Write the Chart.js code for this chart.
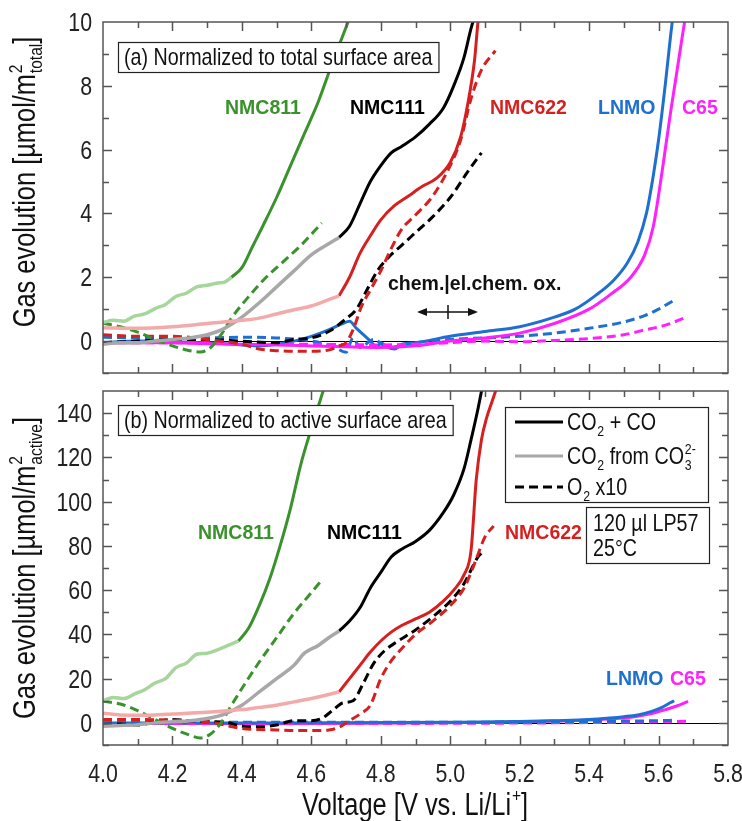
<!DOCTYPE html>
<html>
<head>
<meta charset="utf-8">
<script src="https://cdn.jsdelivr.net/npm/chart.js@4.4.1/dist/chart.umd.min.js"></script>
<style>
  body { margin: 0; background: #fff; }
  #wrap { position: relative; width: 742px; height: 821px; }
  canvas { position: absolute; left: 0; }
</style>
</head>
<body>
<div id="wrap">
  <canvas id="chartA" width="742" height="380" style="top:0"></canvas>
  <canvas id="chartB" width="742" height="441" style="top:380px"></canvas>
</div>
<script>
// axis ticks
var voltTicks = [4.0, 4.2, 4.4, 4.6, 4.8, 5.0, 5.2, 5.4, 5.6, 5.8]
var yTicksA = [0, 2, 4, 6, 8, 10]
var yTicksB = [0, 20, 40, 60, 80, 100, 120, 140]

// (a) normalized to total surface area
var vA811co3 = [4.00, 4.03, 4.06, 4.09, 4.12, 4.15, 4.18, 4.21, 4.24, 4.27, 4.30, 4.33, 4.35, 4.37]
var gA811co3 = [0.58, 0.65, 0.62, 0.78, 0.85, 1.02, 1.15, 1.40, 1.50, 1.70, 1.75, 1.82, 1.85, 2.00]
var vA811 = [4.37, 4.40, 4.43, 4.46, 4.50, 4.54, 4.58, 4.62, 4.66, 4.72]
var gA811 = [2.00, 2.30, 2.95, 3.60, 4.50, 5.50, 6.50, 7.50, 8.70, 10.4]
var vA811o2 = [4.00, 4.05, 4.10, 4.15, 4.20, 4.25, 4.28, 4.31, 4.34, 4.37, 4.42, 4.47, 4.52, 4.57, 4.63]
var gA811o2 = [0.56, 0.45, 0.28, 0.05, -0.15, -0.30, -0.34, -0.20, 0.20, 0.72, 1.40, 2.00, 2.50, 3.00, 3.70]

var vA111co3 = [4.00, 4.05, 4.10, 4.15, 4.20, 4.25, 4.30, 4.35, 4.40, 4.45, 4.50, 4.55, 4.60, 4.65, 4.68]
var gA111co3 = [-0.10, -0.05, -0.05, 0.00, 0.05, 0.10, 0.20, 0.40, 0.75, 1.20, 1.70, 2.20, 2.70, 3.05, 3.25]
var vA111 = [4.68, 4.71, 4.74, 4.77, 4.80, 4.83, 4.86, 4.90, 4.94, 4.98, 5.01, 5.04, 5.06, 5.08]
var gA111 = [3.25, 3.60, 4.30, 5.00, 5.50, 5.90, 6.10, 6.40, 6.80, 7.30, 8.00, 8.90, 9.80, 10.5]
var vA111o2 = [4.00, 4.10, 4.20, 4.30, 4.40, 4.50, 4.55, 4.60, 4.65, 4.70, 4.73, 4.76, 4.79, 4.82, 4.86, 4.90, 4.95, 5.00, 5.05, 5.09]
var gA111o2 = [-0.05, 0.00, 0.05, 0.05, 0.00, -0.05, 0.05, 0.10, 0.30, 0.70, 1.00, 1.60, 2.20, 2.60, 3.00, 3.40, 3.90, 4.50, 5.30, 5.90]

var vA622co3 = [4.00, 4.10, 4.20, 4.30, 4.40, 4.45, 4.50, 4.55, 4.60, 4.65, 4.68]
var gA622co3 = [0.42, 0.40, 0.45, 0.55, 0.65, 0.72, 0.85, 0.98, 1.10, 1.30, 1.42]
var vA622 = [4.68, 4.71, 4.74, 4.77, 4.80, 4.84, 4.88, 4.92, 4.96, 5.00, 5.03, 5.05, 5.07, 5.08, 5.09]
var gA622 = [1.42, 2.00, 2.75, 3.30, 3.80, 4.25, 4.55, 4.85, 5.10, 5.60, 6.40, 7.40, 8.80, 10.0, 10.8]
var vA622o2 = [4.00, 4.10, 4.20, 4.30, 4.40, 4.45, 4.50, 4.55, 4.60, 4.65, 4.68, 4.70, 4.72, 4.745, 4.77, 4.80, 4.83, 4.86, 4.90, 4.95, 5.00, 5.03, 5.06, 5.09, 5.13]
var gA622o2 = [0.20, 0.15, 0.15, 0.05, -0.10, -0.25, -0.30, -0.32, -0.32, -0.28, -0.15, -0.05, 0.35, 1.10, 1.60, 2.20, 2.90, 3.50, 3.95, 4.55, 5.50, 6.30, 7.60, 8.50, 9.10]

var vAlnmo = [4.00, 4.10, 4.20, 4.30, 4.40, 4.45, 4.50, 4.55, 4.60, 4.65, 4.69, 4.71, 4.73, 4.75, 4.77, 4.79, 4.80, 4.82, 4.84, 4.86, 4.90, 5.00, 5.10, 5.20, 5.30, 5.36, 5.42, 5.47, 5.51, 5.54, 5.565, 5.585, 5.60, 5.62, 5.635, 5.645]
var gAlnmo = [-0.05, 0.00, -0.02, -0.05, -0.12, -0.15, -0.10, 0.00, 0.15, 0.35, 0.55, 0.62, 0.40, 0.20, 0.00, -0.20, -0.05, -0.20, -0.25, -0.10, -0.05, 0.15, 0.30, 0.45, 0.75, 1.00, 1.44, 1.90, 2.45, 3.10, 4.00, 5.20, 6.30, 8.10, 9.60, 10.5]
var vAlnmoO2 = [4.00, 4.10, 4.20, 4.30, 4.40, 4.50, 4.60, 4.66, 4.70, 4.72, 4.74, 4.78, 4.82, 4.90, 5.00, 5.10, 5.20, 5.30, 5.40, 5.50, 5.56, 5.60, 5.645]
var gAlnmoO2 = [0.12, 0.10, 0.08, 0.10, 0.12, 0.10, 0.00, -0.15, -0.35, 0.10, -0.20, 0.05, -0.20, -0.05, 0.05, 0.10, 0.15, 0.25, 0.40, 0.60, 0.80, 1.00, 1.28]

var vAc65 = [4.00, 4.10, 4.20, 4.30, 4.40, 4.50, 4.60, 4.70, 4.80, 4.90, 5.00, 5.10, 5.20, 5.30, 5.40, 5.46, 5.52, 5.56, 5.585, 5.61, 5.635, 5.655, 5.675, 5.685]
var gAc65 = [-0.05, -0.05, -0.05, -0.08, -0.10, -0.12, -0.15, -0.18, -0.20, -0.15, 0.00, 0.10, 0.25, 0.55, 1.00, 1.45, 2.00, 2.70, 3.60, 5.30, 7.20, 8.60, 10.0, 10.6]
var vAc65O2 = [4.00, 4.20, 4.40, 4.60, 4.80, 5.00, 5.10, 5.20, 5.30, 5.40, 5.50, 5.56, 5.62, 5.68]
var gAc65O2 = [-0.05, -0.05, -0.08, -0.10, -0.12, -0.05, 0.00, -0.02, 0.02, 0.08, 0.20, 0.35, 0.50, 0.75]

// (b) normalized to active surface area
var vB811co3 = [4.00, 4.03, 4.06, 4.09, 4.12, 4.15, 4.18, 4.21, 4.24, 4.27, 4.30, 4.33, 4.36, 4.39]
var gB811co3 = [10.0, 11.5, 11.0, 13.0, 15.0, 18.0, 20.0, 25.0, 27.0, 31.0, 31.5, 33.0, 35.0, 37.0]
var vB811 = [4.39, 4.42, 4.45, 4.48, 4.51, 4.54, 4.57, 4.60, 4.63, 4.65]
var gB811 = [37.0, 43.0, 53.0, 65.0, 80.0, 97.0, 117, 133, 148, 158]
var vB811o2 = [4.00, 4.05, 4.10, 4.15, 4.20, 4.24, 4.28, 4.31, 4.34, 4.37, 4.41, 4.45, 4.50, 4.55, 4.59, 4.63]
var gB811o2 = [9.8, 8.5, 5.5, 1.5, -2.5, -5.0, -6.8, -5.0, 0.0, 8.0, 18.0, 27.5, 38.5, 49.5, 57.0, 64.5]

var vB111co3 = [4.00, 4.05, 4.10, 4.15, 4.20, 4.25, 4.30, 4.35, 4.40, 4.45, 4.50, 4.55, 4.58, 4.62, 4.65, 4.68]
var gB111co3 = [-1.5, -1.2, -0.8, 0.0, 0.5, 1.0, 2.0, 4.0, 8.0, 14.0, 20.0, 26.0, 31.5, 35.0, 38.5, 41.5]
var vB111 = [4.68, 4.71, 4.74, 4.77, 4.80, 4.83, 4.86, 4.90, 4.94, 4.98, 5.01, 5.04, 5.06, 5.08, 5.10]
var gB111 = [41.5, 46.0, 52.0, 61.0, 68.0, 75.0, 78.5, 82.0, 87.0, 95.0, 103, 115, 128, 142, 158]
var vB111o2 = [4.00, 4.05, 4.10, 4.15, 4.20, 4.25, 4.30, 4.35, 4.40, 4.45, 4.50, 4.55, 4.60, 4.63, 4.66, 4.69, 4.72, 4.75, 4.78, 4.81, 4.85, 4.90, 4.95, 5.00, 5.04, 5.08, 5.10]
var gB111o2 = [-0.7, -0.5, -1.0, 0.5, 1.5, 1.0, 0.5, 0.3, -1.5, -1.8, -1.0, 1.0, 1.0, 2.0, 5.5, 9.0, 10.0, 18.0, 27.0, 32.5, 37.0, 42.0, 48.0, 55.0, 63.0, 75.0, 78.0]

var vB622co3 = [4.00, 4.05, 4.10, 4.15, 4.20, 4.30, 4.40, 4.45, 4.50, 4.55, 4.60, 4.65, 4.68]
var gB622co3 = [4.4, 3.6, 3.5, 3.6, 4.0, 4.8, 6.0, 7.0, 8.0, 9.5, 11.0, 12.8, 14.0]
var vB622 = [4.68, 4.71, 4.74, 4.77, 4.80, 4.83, 4.86, 4.90, 4.94, 4.98, 5.01, 5.04, 5.06, 5.075, 5.09, 5.105, 5.12, 5.135]
var gB622 = [14.0, 20.0, 26.0, 32.0, 37.0, 41.0, 44.0, 47.0, 50.0, 55.0, 60.0, 67.0, 78.0, 110, 128, 138, 145, 152]
var vB622o2 = [4.00, 4.10, 4.20, 4.30, 4.40, 4.45, 4.50, 4.55, 4.60, 4.65, 4.68, 4.71, 4.74, 4.77, 4.80, 4.83, 4.86, 4.90, 4.95, 5.00, 5.04, 5.07, 5.10, 5.125]
var gB622o2 = [1.5, 1.5, 1.2, 0.5, -2.5, -3.0, -3.2, -3.5, -3.5, -3.2, -2.0, 1.0, 4.0, 8.0, 20.0, 28.0, 33.5, 40.0, 46.0, 53.0, 61.0, 72.0, 84.0, 89.0]

var vBlnmo = [4.00, 4.50, 5.00, 5.20, 5.30, 5.40, 5.46, 5.50, 5.54, 5.58, 5.61, 5.635, 5.645]
var gBlnmo = [0.0, 0.0, 0.3, 0.6, 1.0, 1.5, 2.2, 2.8, 3.6, 5.2, 7.0, 9.2, 10.0]
var vBlnmoO2 = [4.00, 4.50, 5.00, 5.30, 5.50, 5.60, 5.645]
var gBlnmoO2 = [0.5, 0.3, 0.3, 0.5, 0.8, 1.0, 1.2]
var vBc65 = [4.00, 4.50, 5.00, 5.20, 5.30, 5.40, 5.46, 5.50, 5.54, 5.58, 5.62, 5.65, 5.685]
var gBc65 = [-0.3, -0.4, 0.0, 0.4, 0.8, 1.3, 1.8, 2.2, 3.0, 4.2, 6.0, 7.5, 9.7]
var vBc65O2 = [4.00, 4.50, 5.00, 5.30, 5.50, 5.60, 5.685]
var gBc65O2 = [-0.2, -0.3, -0.2, 0.0, 0.3, 0.5, 0.7]

var GREEN = '#3a922c', LGREEN = '#a6d69c', BLACK = '#000000', GREY = '#a8a8a8'
var RED = '#d61f1f', PINK = '#f2aaaa', BLUE = '#1d6fd0', MAGENTA = '#ff1fff'

var SANS = '"Liberation Sans", Arial, sans-serif'
var SQ = 0.82   // horizontal squeeze, the figure uses a narrow face

function pts(xs, ys) {
  return xs.map(function(x, i) { return {x: x, y: ys[i]} })
}

function line(xs, ys, color, dashed, width) {
  return {
    data: pts(xs, ys),
    borderColor: color,
    borderWidth: width || 3,
    borderDash: dashed ? [9, 5] : [],
    pointRadius: 0,
    cubicInterpolationMode: 'monotone',
    fill: false
  }
}

// narrow text with sub/superscripts, parts are strings or {sup, sub}
function partsWidth(ctx, parts, size) {
  var w = 0
  parts.forEach(function(p) {
    if (typeof p === 'string') {
      ctx.font = size + 'px ' + SANS
      w += ctx.measureText(p).width
    } else {
      ctx.font = Math.round(size * 0.62) + 'px ' + SANS
      w += Math.max(ctx.measureText(p.sup || '').width, ctx.measureText(p.sub || '').width) + 1
    }
  })
  return w * SQ
}

function drawParts(ctx, parts, x, y, size, align) {
  var w = partsWidth(ctx, parts, size)
  if (align === 'center') x -= w / 2
  if (align === 'right') x -= w
  ctx.save()
  ctx.translate(x, y)
  ctx.scale(SQ, 1)
  ctx.textAlign = 'left'
  ctx.textBaseline = 'alphabetic'
  var cx = 0
  parts.forEach(function(p) {
    if (typeof p === 'string') {
      ctx.font = size + 'px ' + SANS
      ctx.fillText(p, cx, 0)
      cx += ctx.measureText(p).width
    } else {
      ctx.font = Math.round(size * 0.62) + 'px ' + SANS
      var ww = 0
      if (p.sup) { ctx.fillText(p.sup, cx + 1, -size * 0.42); ww = ctx.measureText(p.sup).width }
      if (p.sub) { ctx.fillText(p.sub, cx + 1, size * 0.24); ww = Math.max(ww, ctx.measureText(p.sub).width) }
      cx += ww + 1
    }
  })
  ctx.restore()
  return w
}

function yTitle(ctx, parts, cy) {
  ctx.save()
  ctx.fillStyle = '#111'
  ctx.translate(35, cy)
  ctx.rotate(-Math.PI / 2)
  drawParts(ctx, parts, 0, 0, 31, 'center')
  ctx.restore()
}

function boxedText(ctx, text, x, y, size) {
  var w = partsWidth(ctx, [text], size)
  ctx.fillStyle = '#fff'
  ctx.fillRect(x, y, w + 12, size + 6)
  ctx.strokeStyle = '#222'
  ctx.lineWidth = 1.2
  ctx.strokeRect(x + 0.5, y + 0.5, w + 12, size + 6)
  ctx.fillStyle = '#111'
  drawParts(ctx, [text], x + 6, y + size - 1, size, 'left')
}

function label(ctx, text, x, y, color) {
  ctx.font = 'bold 19.5px ' + SANS
  ctx.fillStyle = color
  ctx.textAlign = 'left'
  ctx.textBaseline = 'alphabetic'
  ctx.fillText(text, x, y)
}

function makeFrame(yMin, yMax, yMinor, yMajor, yLabels, xLabels) {
  return {
    id: 'frame',
    beforeDatasetsDraw: function(chart) {
      var ctx = chart.ctx, a = chart.chartArea
      var y0 = Math.round(chart.scales.y.getPixelForValue(0)) + 0.5
      ctx.save()
      ctx.strokeStyle = '#000'
      ctx.lineWidth = 1
      ctx.beginPath()
      ctx.moveTo(a.left, y0)
      ctx.lineTo(a.right, y0)
      ctx.stroke()
      ctx.restore()
    },
    afterDatasetsDraw: function(chart) {
      var ctx = chart.ctx, a = chart.chartArea, xs = chart.scales.x, ys = chart.scales.y
      ctx.save()
      ctx.strokeStyle = '#555'
      ctx.lineWidth = 1.5
      ctx.beginPath()
      for (var i = 1; i < 18; i++) {
        var px = Math.round(xs.getPixelForValue(4 + i * 0.1)) + 0.5
        var len = i % 2 === 0 ? 9 : 6
        ctx.moveTo(px, a.bottom); ctx.lineTo(px, a.bottom - len)
        ctx.moveTo(px, a.top); ctx.lineTo(px, a.top + len)
      }
      for (var j = Math.ceil(yMin / yMinor); j * yMinor < yMax; j++) {
        var v = j * yMinor
        var py = Math.round(ys.getPixelForValue(v)) + 0.5
        var l2 = Math.abs(v % yMajor) < 1e-9 ? 9 : 6
        ctx.moveTo(a.left, py); ctx.lineTo(a.left + l2, py)
        ctx.moveTo(a.right, py); ctx.lineTo(a.right - l2, py)
      }
      ctx.stroke()
      ctx.strokeRect(a.left, a.top, a.right - a.left, a.bottom - a.top)

      // tick labels placed through the scales
      ctx.fillStyle = '#222'
      yLabels.forEach(function(v) {
        drawParts(ctx, [String(v)], a.left - 11, ys.getPixelForValue(v) + 9, 26, 'right')
      })
      if (xLabels) {
        xLabels.forEach(function(v) {
          drawParts(ctx, [v.toFixed(1)], xs.getPixelForValue(v), a.bottom + 37, 26, 'center')
        })
      }
      ctx.restore()
    }
  }
}

function notesA(chart) {
  var ctx = chart.ctx
  ctx.save()
  boxedText(ctx, '(a) Normalized to total surface area', 118, 42, 24)
  label(ctx, 'NMC811', 225, 114, GREEN)
  label(ctx, 'NMC111', 350, 114, BLACK)
  label(ctx, 'NMC622', 490, 114, RED)
  label(ctx, 'LNMO', 598, 114, BLUE)
  label(ctx, 'C65', 682, 114, MAGENTA)
  label(ctx, 'chem.|el.chem. ox.', 388, 290, '#111')
  // double arrow
  ctx.strokeStyle = '#111'
  ctx.fillStyle = '#111'
  ctx.lineWidth = 1.5
  ctx.beginPath()
  ctx.moveTo(422, 312); ctx.lineTo(473, 312)
  ctx.moveTo(448, 305); ctx.lineTo(448, 319)
  ctx.stroke()
  ctx.beginPath()
  ctx.moveTo(417, 312); ctx.lineTo(427, 308); ctx.lineTo(427, 316); ctx.closePath()
  ctx.moveTo(478, 312); ctx.lineTo(468, 308); ctx.lineTo(468, 316); ctx.closePath()
  ctx.fill()
  yTitle(ctx, ['Gas evolution [\u00b5mol/m', {sup: '2', sub: 'total'}, ']'], 182)
  ctx.restore()
}

function notesB(chart) {
  var ctx = chart.ctx
  ctx.save()
  boxedText(ctx, '(b) Normalized to active surface area', 118, 25, 24)
  label(ctx, 'NMC811', 198, 159, GREEN)
  label(ctx, 'NMC111', 327, 159, BLACK)
  label(ctx, 'NMC622', 505, 159, RED)
  label(ctx, 'LNMO', 606, 305, BLUE)
  label(ctx, 'C65', 670, 305, MAGENTA)

  // legend
  ctx.fillStyle = '#fff'
  ctx.fillRect(505, 27, 203, 95)
  ctx.strokeStyle = '#222'
  ctx.lineWidth = 1.2
  ctx.strokeRect(505.5, 27.5, 203, 95)
  var rows = [
    {y: 42, color: BLACK, dash: [], parts: ['CO', {sub: '2'}, ' + CO']},
    {y: 76, color: GREY, dash: [], parts: ['CO', {sub: '2'}, ' from CO', {sup: '2-', sub: '3'}]},
    {y: 107, color: BLACK, dash: [9, 5], parts: ['O', {sub: '2'}, ' x10']}
  ]
  rows.forEach(function(r) {
    ctx.strokeStyle = r.color
    ctx.lineWidth = 3
    ctx.setLineDash(r.dash)
    ctx.beginPath()
    ctx.moveTo(515, r.y); ctx.lineTo(563, r.y)
    ctx.stroke()
    ctx.setLineDash([])
    ctx.fillStyle = '#111'
    drawParts(ctx, r.parts, 567, r.y + 8, 24, 'left')
  })

  ctx.fillStyle = '#fff'
  ctx.fillRect(586, 127, 123, 56)
  ctx.strokeStyle = '#222'
  ctx.lineWidth = 1.2
  ctx.strokeRect(586.5, 127.5, 123, 56)
  ctx.fillStyle = '#111'
  drawParts(ctx, ['120 \u00b5l LP57'], 593, 151, 24, 'left')
  drawParts(ctx, ['25\u00b0C'], 593, 176, 24, 'left')

  yTitle(ctx, ['Gas evolution [\u00b5mol/m', {sup: '2', sub: 'active'}, ']'], 188)
  ctx.fillStyle = '#111'
  drawParts(ctx, ['Voltage [V vs. Li/Li', {sup: '+'}, ']'], 415, 435, 31, 'center')
  ctx.restore()
}

function setTicks(list) {
  return function(scale) { scale.ticks = list.map(function(v) { return {value: v} }) }
}

var chartA = new Chart(document.getElementById('chartA').getContext('2d'), {
  type: 'line',
  data: {
    datasets: [
      line(vA622co3, gA622co3, PINK, false, 3.5),
      line(vA111co3, gA111co3, GREY, false, 3.5),
      line(vA811co3, gA811co3, LGREEN, false, 3.5),
      line(vA811o2, gA811o2, GREEN, true),
      line(vA811, gA811, GREEN),
      line(vA622o2, gA622o2, RED, true),
      line(vA111o2, gA111o2, BLACK, true),
      line(vA622, gA622, RED),
      line(vA111, gA111, BLACK),
      line(vAc65O2, gAc65O2, MAGENTA, true),
      line(vAc65, gAc65, MAGENTA),
      line(vAlnmoO2, gAlnmoO2, BLUE, true),
      line(vAlnmo, gAlnmo, BLUE)
    ]
  },
  options: {
    responsive: false,
    animation: false,
    layout: { padding: { top: 22, right: 14, left: 0, bottom: 0 } },
    plugins: { legend: { display: false }, tooltip: { enabled: false } },
    scales: {
      x: {
        type: 'linear', min: 4.0, max: 5.8,
        grid: { display: false, drawTicks: false },
        border: { display: false },
        ticks: { display: false },
        afterFit: function(scale) { scale.height = 7 }
      },
      y: {
        min: -1, max: 10,
        grid: { display: false, drawTicks: false },
        border: { display: false },
        afterBuildTicks: setTicks(yTicksA),
        ticks: { display: false },
        afterFit: function(scale) { scale.width = 103 }
      }
    }
  },
  plugins: [makeFrame(-1, 10, 1, 2, yTicksA, null), { id: 'notesA', afterDraw: notesA }]
})

var chartB = new Chart(document.getElementById('chartB').getContext('2d'), {
  type: 'line',
  data: {
    datasets: [
      line(vB622co3, gB622co3, PINK, false, 3.5),
      line(vB111co3, gB111co3, GREY, false, 3.5),
      line(vB811co3, gB811co3, LGREEN, false, 3.5),
      line(vB811o2, gB811o2, GREEN, true),
      line(vB811, gB811, GREEN),
      line(vB622o2, gB622o2, RED, true),
      line(vB111o2, gB111o2, BLACK, true),
      line(vB622, gB622, RED),
      line(vB111, gB111, BLACK),
      line(vBlnmoO2, gBlnmoO2, BLUE, true),
      line(vBc65O2, gBc65O2, MAGENTA, true),
      line(vBlnmo, gBlnmo, BLUE),
      line(vBc65, gBc65, MAGENTA)
    ]
  },
  options: {
    responsive: false,
    animation: false,
    layout: { padding: { top: 11, right: 14, left: 0, bottom: 0 } },
    plugins: { legend: { display: false }, tooltip: { enabled: false } },
    scales: {
      x: {
        type: 'linear', min: 4.0, max: 5.8,
        grid: { display: false, drawTicks: false },
        border: { display: false },
        afterBuildTicks: setTicks(voltTicks),
        ticks: { display: false },
        afterFit: function(scale) { scale.height = 76 }
      },
      y: {
        min: -10, max: 150,
        grid: { display: false, drawTicks: false },
        border: { display: false },
        afterBuildTicks: setTicks(yTicksB),
        ticks: { display: false },
        afterFit: function(scale) { scale.width = 103 }
      }
    }
  },
  plugins: [makeFrame(-10, 150, 10, 20, yTicksB, voltTicks), { id: 'notesB', afterDraw: notesB }]
})
</script>
</body>
</html>
